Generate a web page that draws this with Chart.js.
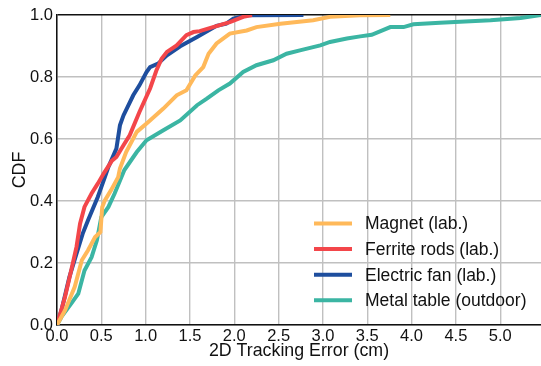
<!DOCTYPE html>
<html>
<head>
<meta charset="utf-8">
<script src="https://cdn.jsdelivr.net/npm/chart.js@4.4.0/dist/chart.umd.min.js"></script>
<style>
  html, body { margin: 0; padding: 0; background: #fff; }
  canvas { display: block; }
</style>
</head>
<body>
<canvas id="cdfChart" width="541" height="366"></canvas>
<script>
// series labels + colours
const seriesLabels = ['Magnet (lab.)', 'Ferrite rods (lab.)', 'Electric fan (lab.)', 'Metal table (outdoor)'];
const seriesColors = ['#FFB95A', '#F3464A', '#1E4E9E', '#3BB5A3'];

// tick labels
const xTicks = [0, 0.5, 1, 1.5, 2, 2.5, 3, 3.5, 4, 4.5, 5];
const yTicks = [0, 0.2, 0.4, 0.6, 0.8, 1.0];

// CDF curves (x = error in cm, y = CDF)
const magnetX = [0, 0.09, 0.20, 0.28, 0.35, 0.43, 0.49, 0.51, 0.54, 0.61, 0.69, 0.71, 0.78, 0.90, 1.03, 1.20, 1.35, 1.46, 1.56, 1.65, 1.71, 1.80, 1.95, 2.14, 2.25, 2.52, 2.89, 3.08, 3.42, 3.76];
const magnetY = [0, 0.047, 0.123, 0.209, 0.241, 0.284, 0.30, 0.38, 0.402, 0.435, 0.477, 0.505, 0.558, 0.623, 0.655, 0.698, 0.741, 0.757, 0.805, 0.832, 0.875, 0.908, 0.94, 0.95, 0.961, 0.972, 0.983, 0.994, 0.999, 1.0];

const ferriteX = [0, 0.09, 0.16, 0.22, 0.26, 0.31, 0.39, 0.46, 0.53, 0.62, 0.67, 0.75, 0.82, 0.93, 1.05, 1.12, 1.18, 1.24, 1.35, 1.46, 1.54, 1.61, 1.76, 1.95, 2.10, 2.20];
const ferriteY = [0, 0.09, 0.176, 0.252, 0.327, 0.381, 0.424, 0.456, 0.49, 0.53, 0.542, 0.58, 0.612, 0.687, 0.763, 0.82, 0.859, 0.881, 0.902, 0.935, 0.945, 0.948, 0.961, 0.977, 0.994, 1.0];

const fanX = [0, 0.05, 0.14, 0.22, 0.29, 0.35, 0.46, 0.54, 0.58, 0.67, 0.71, 0.75, 0.86, 0.93, 1.01, 1.05, 1.14, 1.24, 1.39, 1.58, 1.80, 1.91, 1.99, 2.14, 2.78];
const fanY = [0, 0.047, 0.155, 0.23, 0.295, 0.338, 0.413, 0.477, 0.51, 0.569, 0.644, 0.676, 0.741, 0.773, 0.816, 0.832, 0.843, 0.87, 0.899, 0.929, 0.965, 0.972, 0.988, 0.999, 1.0];

const tableX = [0, 0.05, 0.16, 0.24, 0.31, 0.39, 0.45, 0.50, 0.58, 0.65, 0.76, 0.90, 1.01, 1.20, 1.39, 1.58, 1.69, 1.82, 1.95, 2.10, 2.25, 2.44, 2.59, 2.74, 2.97, 3.08, 3.27, 3.42, 3.55, 3.76, 3.91, 4.02, 4.32, 4.89, 5.23, 5.46];
const tableY = [0, 0.026, 0.069, 0.101, 0.176, 0.219, 0.273, 0.348, 0.381, 0.424, 0.50, 0.558, 0.596, 0.628, 0.66, 0.709, 0.73, 0.757, 0.779, 0.816, 0.838, 0.854, 0.875, 0.886, 0.902, 0.913, 0.924, 0.931, 0.936, 0.961, 0.961, 0.97, 0.975, 0.983, 0.99, 1.0];

const seriesX = [magnetX, ferriteX, fanX, tableX];
const seriesY = [magnetY, ferriteY, fanY, tableY];

const FONT = '"Liberation Sans", Arial, sans-serif';

// legend drawn inside the plot (lower right), no frame
const insideLegend = {
    id: 'insideLegend',
    afterDraw(chart) {
        const ctx = chart.ctx;
        ctx.save();
        ctx.font = '17.5px ' + FONT;
        ctx.textBaseline = 'middle';
        ctx.textAlign = 'left';
        chart.data.datasets.forEach((ds, i) => {
            const y = 223.5 + i * 25.6;
            ctx.strokeStyle = ds.borderColor;
            ctx.lineWidth = 4;
            ctx.beginPath();
            ctx.moveTo(314, y);
            ctx.lineTo(352, y);
            ctx.stroke();
            ctx.fillStyle = '#111';
            ctx.fillText(ds.label, 365, y + 1);
        });
        ctx.restore();
    }
};

const datasets = seriesLabels.map((label, i) => ({
    label: label,
    data: seriesX[i].map((x, j) => ({ x: x, y: seriesY[i][j] })),
    borderColor: seriesColors[i],
    backgroundColor: seriesColors[i],
    borderWidth: 4,
    pointRadius: 0,
    showLine: true,
    tension: 0,
    fill: false
}));

const config = {
    type: 'scatter',
    data: { datasets: datasets },
    options: {
        responsive: false,
        animation: false,
        devicePixelRatio: 1,
        layout: {
            padding: { top: 15, right: 0, bottom: 0, left: 0 }
        },
        plugins: {
            legend: { display: false },
            tooltip: { enabled: false }
        },
        scales: {
            x: {
                type: 'linear',
                min: 0,
                max: 5.46,
                afterBuildTicks: (scale) => { scale.ticks = xTicks.map(v => ({ value: v })); },
                afterFit: (scale) => { scale.height = 41; },
                ticks: {
                    color: '#111',
                    padding: 2,
                    font: { family: FONT, size: 16.5 },
                    callback: (v) => Number(v).toFixed(1)
                },
                grid: {
                    color: '#c0c0c0',
                    lineWidth: 1.4,
                    drawTicks: false
                },
                border: { color: '#111', width: 1.5 },
                title: {
                    display: true,
                    text: '2D Tracking Error (cm)',
                    color: '#111',
                    font: { family: FONT, size: 17.8 },
                    padding: { top: 0, bottom: 4 }
                }
            },
            y: {
                type: 'linear',
                min: 0,
                max: 1,
                afterBuildTicks: (scale) => { scale.ticks = yTicks.map(v => ({ value: v })); },
                afterFit: (scale) => { scale.width = 57; },
                ticks: {
                    color: '#111',
                    padding: 4,
                    font: { family: FONT, size: 16.5 },
                    callback: (v) => Number(v).toFixed(1)
                },
                grid: {
                    color: (c) => (c.tick && c.tick.value === 1 ? '#111' : '#c0c0c0'),
                    lineWidth: 1.4,
                    drawTicks: false
                },
                border: { color: '#111', width: 1.5 },
                title: {
                    display: true,
                    text: 'CDF',
                    color: '#111',
                    font: { family: FONT, size: 17.8 },
                    padding: { top: 9, bottom: 0 }
                }
            }
        }
    },
    plugins: [insideLegend]
};

const ctx = document.getElementById('cdfChart').getContext('2d');
window.cdfChart = new Chart(ctx, config);
</script>
</body>
</html>
